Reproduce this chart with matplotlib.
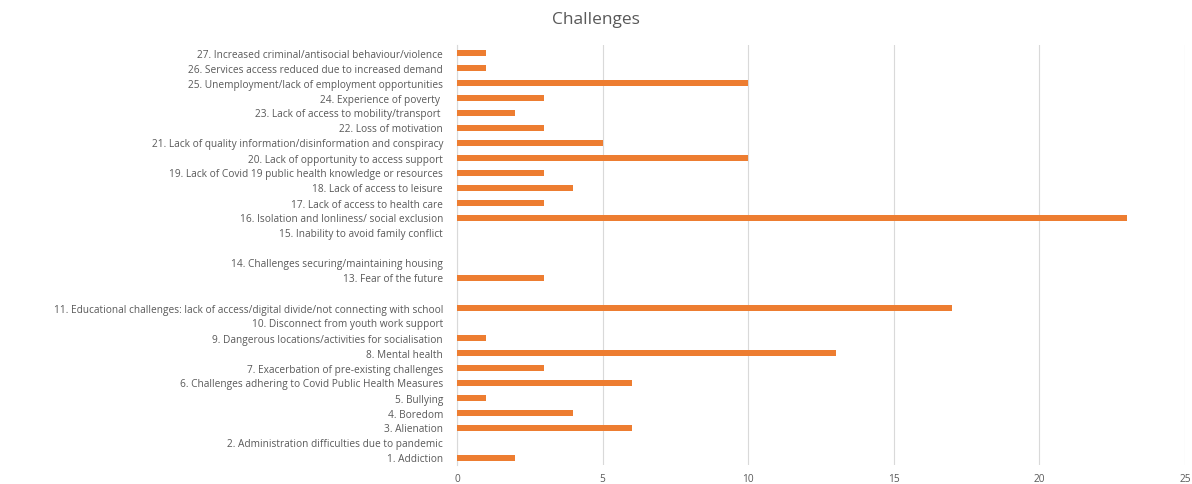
import matplotlib.pyplot as plt

plt.rcParams['font.family'] = ['Open Sans', 'DejaVu Sans']

# categories from bottom to top (blank rows kept as empty labels)
labels = [
    "1. Addiction",
    "2. Administration difficulties due to pandemic",
    "3. Alienation",
    "4. Boredom",
    "5. Bullying",
    "6. Challenges adhering to Covid Public Health Measures",
    "7. Exacerbation of pre-existing challenges",
    "8. Mental health",
    "9. Dangerous locations/activities for socialisation",
    "10. Disconnect from youth work support",
    "11. Educational challenges: lack of access/digital divide/not connecting with school",
    "",
    "13. Fear of the future",
    "14. Challenges securing/maintaining housing",
    "",
    "15. Inability to avoid family conflict",
    "16. Isolation and lonliness/ social exclusion",
    "17. Lack of access to health care",
    "18. Lack of access to leisure",
    "19. Lack of Covid 19 public health knowledge or resources",
    "20. Lack of opportunity to access support",
    "21. Lack of quality information/disinformation and conspiracy",
    "22. Loss of motivation",
    "23. Lack of access to mobility/transport ",
    "24. Experience of poverty ",
    "25. Unemployment/lack of employment opportunities",
    "26. Services access reduced due to increased demand",
    "27. Increased criminal/antisocial behaviour/violence",
]
counts = [2, 0, 6, 4, 1, 6, 3, 13, 1, 0, 17, 0, 3, 0, 0, 0, 23, 3, 4, 3, 10, 5, 3, 2, 3, 10, 1, 1]

text_color = '#595959'
bar_color = '#ed7d31'

fig = plt.figure(figsize=(11.92, 4.85), dpi=100)
ax = fig.add_axes([457 / 1192, 19 / 485, 728 / 1192, 420 / 485])

pos = range(len(labels))
ax.barh(pos, counts, height=0.4, color=bar_color, zorder=3)

ax.set_xlim(0, 25)
ax.set_ylim(-0.5, len(labels) - 0.5)
ax.set_xticks([0, 5, 10, 15, 20, 25])
ax.set_yticks(list(pos))
ax.set_yticklabels(labels)

ax.grid(axis='x', color='#d9d9d9', linewidth=0.8, zorder=0)
for s in ['top', 'right', 'bottom']:
    ax.spines[s].set_visible(False)
ax.spines['left'].set_color('#d9d9d9')
ax.tick_params(axis='both', length=0, labelsize=7.3, colors=text_color)
ax.tick_params(axis='x', pad=6)
ax.tick_params(axis='y', pad=10)

fig.suptitle('Challenges', y=0.975, fontsize=12.5, color=text_color)

fig.savefig('out.png', dpi=100)
